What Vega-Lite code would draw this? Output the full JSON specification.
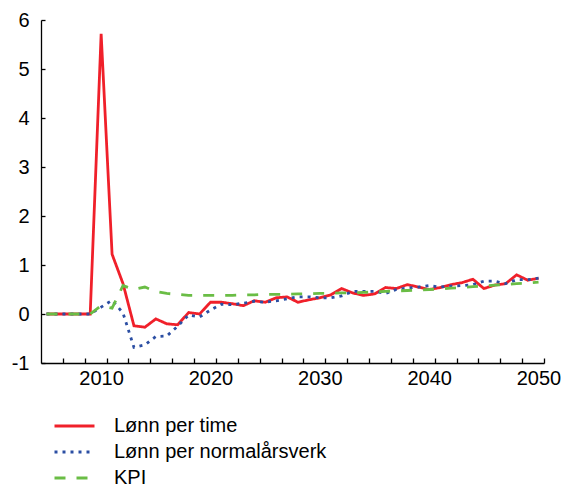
{
  "$schema": "https://vega.github.io/schema/vega-lite/v6.json",
  "width": 503,
  "height": 343,
  "autosize": {"type": "none"},
  "padding": {"left": 41, "top": 20, "right": 25, "bottom": 125},
  "background": "white",
  "config": {
    "font": "Liberation Sans",
    "view": {"stroke": null},
    "axis": {"grid": false, "domainColor": "#000000", "tickColor": "#000000", "labelColor": "#000000", "labelFont": "Liberation Sans", "labelFontSize": 20, "domainWidth": 1.3, "tickWidth": 1.3}
  },
  "data": {
    "values": [
      {"year": 2005, "Lønn per time": 0, "Lønn per normalårsverk": 0, "KPI": 0},
      {"year": 2006, "Lønn per time": 0, "Lønn per normalårsverk": 0, "KPI": 0},
      {"year": 2007, "Lønn per time": 0, "Lønn per normalårsverk": 0, "KPI": 0},
      {"year": 2008, "Lønn per time": 0, "Lønn per normalårsverk": 0, "KPI": 0},
      {"year": 2009, "Lønn per time": 0, "Lønn per normalårsverk": 0, "KPI": 0},
      {"year": 2010, "Lønn per time": 5.72, "Lønn per normalårsverk": 0.14, "KPI": 0.17},
      {"year": 2011, "Lønn per time": 1.22, "Lønn per normalårsverk": 0.28, "KPI": 0.12},
      {"year": 2012, "Lønn per time": 0.62, "Lønn per normalårsverk": 0.02, "KPI": 0.58},
      {"year": 2013, "Lønn per time": -0.24, "Lønn per normalårsverk": -0.68, "KPI": 0.5},
      {"year": 2014, "Lønn per time": -0.27, "Lønn per normalårsverk": -0.63, "KPI": 0.55},
      {"year": 2015, "Lønn per time": -0.1, "Lønn per normalårsverk": -0.46, "KPI": 0.46},
      {"year": 2016, "Lønn per time": -0.2, "Lønn per normalårsverk": -0.45, "KPI": 0.42},
      {"year": 2017, "Lønn per time": -0.22, "Lønn per normalårsverk": -0.25, "KPI": 0.4},
      {"year": 2018, "Lønn per time": 0.03, "Lønn per normalårsverk": -0.02, "KPI": 0.38},
      {"year": 2019, "Lønn per time": 0.0, "Lønn per normalårsverk": -0.06, "KPI": 0.38},
      {"year": 2020, "Lønn per time": 0.24, "Lønn per normalårsverk": 0.08, "KPI": 0.38},
      {"year": 2021, "Lønn per time": 0.24, "Lønn per normalårsverk": 0.2, "KPI": 0.38},
      {"year": 2022, "Lønn per time": 0.21, "Lønn per normalårsverk": 0.19, "KPI": 0.38},
      {"year": 2023, "Lønn per time": 0.17, "Lønn per normalårsverk": 0.22, "KPI": 0.39},
      {"year": 2024, "Lønn per time": 0.27, "Lønn per normalårsverk": 0.26, "KPI": 0.39},
      {"year": 2025, "Lønn per time": 0.24, "Lønn per normalårsverk": 0.24, "KPI": 0.4},
      {"year": 2026, "Lønn per time": 0.33, "Lønn per normalårsverk": 0.27, "KPI": 0.4},
      {"year": 2027, "Lønn per time": 0.35, "Lønn per normalårsverk": 0.31, "KPI": 0.4},
      {"year": 2028, "Lønn per time": 0.24, "Lønn per normalårsverk": 0.35, "KPI": 0.41},
      {"year": 2029, "Lønn per time": 0.29, "Lønn per normalårsverk": 0.35, "KPI": 0.41},
      {"year": 2030, "Lønn per time": 0.33, "Lønn per normalårsverk": 0.33, "KPI": 0.42},
      {"year": 2031, "Lønn per time": 0.39, "Lønn per normalårsverk": 0.33, "KPI": 0.42},
      {"year": 2032, "Lønn per time": 0.52, "Lønn per normalårsverk": 0.37, "KPI": 0.43},
      {"year": 2033, "Lønn per time": 0.43, "Lønn per normalårsverk": 0.46, "KPI": 0.43},
      {"year": 2034, "Lønn per time": 0.38, "Lønn per normalårsverk": 0.46, "KPI": 0.44},
      {"year": 2035, "Lønn per time": 0.41, "Lønn per normalårsverk": 0.46, "KPI": 0.45},
      {"year": 2036, "Lønn per time": 0.54, "Lønn per normalårsverk": 0.42, "KPI": 0.46},
      {"year": 2037, "Lønn per time": 0.52, "Lønn per normalårsverk": 0.5, "KPI": 0.47},
      {"year": 2038, "Lønn per time": 0.6, "Lønn per normalårsverk": 0.53, "KPI": 0.48},
      {"year": 2039, "Lønn per time": 0.55, "Lønn per normalårsverk": 0.55, "KPI": 0.49},
      {"year": 2040, "Lønn per time": 0.5, "Lønn per normalårsverk": 0.58, "KPI": 0.5},
      {"year": 2041, "Lønn per time": 0.54, "Lønn per normalårsverk": 0.55, "KPI": 0.51},
      {"year": 2042, "Lønn per time": 0.6, "Lønn per normalårsverk": 0.57, "KPI": 0.53},
      {"year": 2043, "Lønn per time": 0.64, "Lønn per normalårsverk": 0.58, "KPI": 0.54},
      {"year": 2044, "Lønn per time": 0.71, "Lønn per normalårsverk": 0.6, "KPI": 0.56},
      {"year": 2045, "Lønn per time": 0.52, "Lønn per normalårsverk": 0.67, "KPI": 0.57},
      {"year": 2046, "Lønn per time": 0.59, "Lønn per normalårsverk": 0.67, "KPI": 0.59},
      {"year": 2047, "Lønn per time": 0.62, "Lønn per normalårsverk": 0.62, "KPI": 0.6},
      {"year": 2048, "Lønn per time": 0.8, "Lønn per normalårsverk": 0.7, "KPI": 0.62},
      {"year": 2049, "Lønn per time": 0.69, "Lønn per normalårsverk": 0.7, "KPI": 0.63},
      {"year": 2050, "Lønn per time": 0.73, "Lønn per normalårsverk": 0.73, "KPI": 0.65}
    ]
  },
  "transform": [
    {"fold": ["Lønn per time", "Lønn per normalårsverk", "KPI"], "as": ["serie", "value"]}
  ],
  "mark": {"type": "line", "strokeWidth": 2.8, "clip": false},
  "encoding": {
    "x": {
      "field": "year", "type": "quantitative",
      "scale": {"domain": [2004.5, 2050.5], "nice": false, "zero": false},
      "axis": {
        "title": null,
        "values": [2006.5, 2008.5, 2010.5, 2012.5, 2014.5, 2016.5, 2018.5, 2020.5, 2022.5, 2024.5, 2026.5, 2028.5, 2030.5, 2032.5, 2034.5, 2036.5, 2038.5, 2040.5, 2042.5, 2044.5, 2046.5, 2048.5, 2050.5],
        "labelExpr": "datum.value % 10 == 0.5 ? format(datum.value - 0.5, 'd') : ''",
        "tickSize": -5,
        "labelPadding": 10,
        "labelOffset": -5.5,
        "labelFlush": false,
        "labelOverlap": false
      }
    },
    "y": {
      "field": "value", "type": "quantitative",
      "scale": {"domain": [-1, 6], "nice": false},
      "axis": {
        "title": null,
        "values": [-1, 0, 1, 2, 3, 4, 5, 6],
        "labelExpr": "datum.value + ''",
        "tickSize": -4,
        "labelPadding": 16
      }
    },
    "color": {
      "field": "serie", "type": "nominal",
      "scale": {"domain": ["Lønn per time", "Lønn per normalårsverk", "KPI"], "range": ["#f0202a", "#2b4ea3", "#6abd45"]},
      "legend": {
        "title": null,
        "orient": "none",
        "legendX": 12,
        "legendY": 393,
        "padding": 0,
        "symbolType": "stroke",
        "symbolSize": 1600,
        "symbolStrokeWidth": 3,
        "clipHeight": 26,
        "labelFont": "Liberation Sans",
        "labelFontSize": 20,
        "labelColor": "#000000",
        "labelOffset": 18,
        "rowPadding": 0,
        "labelLimit": 400
      }
    },
    "strokeDash": {
      "field": "serie", "type": "nominal",
      "scale": {"domain": ["Lønn per time", "Lønn per normalårsverk", "KPI"], "range": [[1, 0], [3, 5], [11, 11]]},
      "legend": null
    }
  }
}
